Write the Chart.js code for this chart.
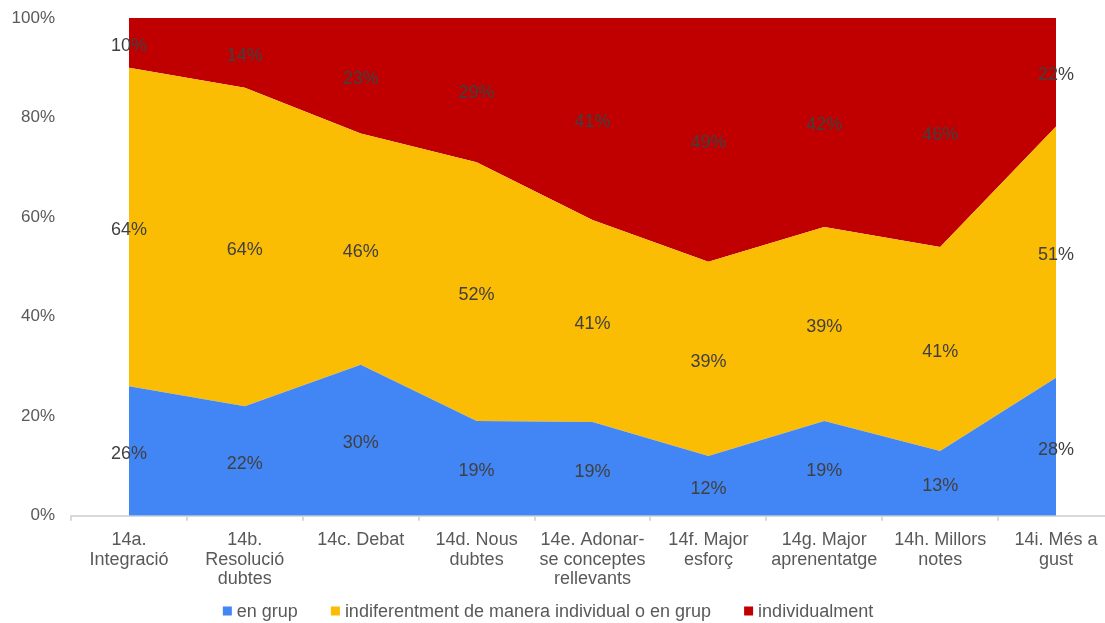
<!DOCTYPE html>
<html>
<head>
  <title>Preferència de treball</title>
  <script src="https://cdn.jsdelivr.net/npm/chart.js"></script>
  <style>
    html, body { margin: 0; padding: 0; background: #fff; overflow: hidden; }
    #wrap { width: 1114px; height: 623px; }
  </style>
</head>
<body>
  <div id="wrap"><canvas id="areaChart"></canvas></div>

  <script>
    // ====================
    // Data
    // ====================
    const categories = [
      ['14a.', 'Integració'],
      ['14b.', 'Resolució', 'dubtes'],
      '14c. Debat',
      ['14d. Nous', 'dubtes'],
      ['14e. Adonar-', 'se conceptes', 'rellevants'],
      ['14f. Major', 'esforç'],
      ['14g. Major', 'aprenentatge'],
      ['14h. Millors', 'notes'],
      ['14i. Més a', 'gust']
    ];
    const enGrup = [26, 22, 30, 19, 19, 12, 19, 13, 28];
    const indiferent = [64, 64, 46, 52, 41, 39, 39, 41, 51];
    const individual = [10, 14, 23, 29, 41, 49, 42, 46, 22];
    const yTicks = [0, 20, 40, 60, 80, 100];

    // 100% stacked: each column scaled to its own total
    const totals = enGrup.map((v, i) => v + indiferent[i] + individual[i]);
    const share = arr => arr.map((v, i) => v / totals[i] * 100);

    const FONT = "'Liberation Sans', Arial, sans-serif";

    // value labels in the middle of each band
    const bandLabels = {
      id: 'bandLabels',
      afterDatasetsDraw(chart) {
        const ctx = chart.ctx;
        ctx.save();
        ctx.font = '18px ' + FONT;
        ctx.fillStyle = '#404040';
        ctx.textAlign = 'center';
        ctx.textBaseline = 'middle';
        chart.data.datasets.forEach((ds, di) => {
          const meta = chart.getDatasetMeta(di);
          meta.data.forEach((pt, i) => {
            let bottom = chart.scales.y.getPixelForValue(0);
            if (di > 0) bottom = chart.getDatasetMeta(di - 1).data[i].y;
            ctx.fillText(ds.raw[i] + '%', pt.x, (pt.y + bottom) / 2 + 3);
          });
        });
        ctx.restore();
      }
    };

    // legend row at the bottom (built-in one can't space items like the original)
    const bottomLegend = {
      id: 'bottomLegend',
      afterDraw(chart) {
        const ctx = chart.ctx;
        const box = 9, gapText = 5, gapItem = 33;
        ctx.save();
        ctx.font = '18px ' + FONT;
        ctx.textBaseline = 'middle';
        ctx.textAlign = 'left';
        const items = chart.data.datasets.map(ds => ({ text: ds.label, color: ds.backgroundColor, w: ctx.measureText(ds.label).width }));
        const total = items.reduce((s, it) => s + box + gapText + it.w, 0) + gapItem * (items.length - 1);
        let x = 548 - total / 2;
        const y = chart.height - 12;
        items.forEach(it => {
          ctx.fillStyle = it.color;
          ctx.fillRect(x, y - box / 2, box, box);
          x += box + gapText;
          ctx.fillStyle = '#595959';
          ctx.fillText(it.text, x, y + 1);
          x += it.w + gapItem;
        });
        ctx.restore();
      }
    };

    new Chart(document.getElementById('areaChart'), {
      type: 'line',
      data: {
        labels: categories,
        datasets: [
          { label: 'en grup', data: share(enGrup), raw: enGrup,
            backgroundColor: '#4285f4', borderColor: '#4285f4', fill: 'origin' },
          { label: 'indiferentment de manera individual o en grup', data: share(indiferent), raw: indiferent,
            backgroundColor: '#fbbc04', borderColor: '#fbbc04', fill: '-1' },
          { label: 'individualment', data: share(individual), raw: individual,
            backgroundColor: '#c00000', borderColor: '#c00000', fill: '-1' }
        ]
      },
      options: {
        responsive: true,
        maintainAspectRatio: false,
        animation: false,
        elements: {
          line: { borderWidth: 0, tension: 0 },
          point: { radius: 0, hoverRadius: 0 }
        },
        layout: { padding: { top: 18, right: 0, left: 10, bottom: 24 } },
        scales: {
          x: {
            offset: true,
            afterFit: s => { s.paddingLeft = 0; s.paddingRight = 0; },
            grid: { offset: true, drawOnChartArea: false, tickLength: 5, color: '#d9d9d9', lineWidth: 2 },
            border: { color: '#d9d9d9', width: 2 },
            ticks: { color: '#595959', font: { family: FONT, size: 18, lineHeight: 1.08 }, maxRotation: 0, padding: 10 }
          },
          y: {
            stacked: true,
            min: 0,
            max: 100,
            afterBuildTicks: axis => { axis.ticks = yTicks.map(v => ({ value: v })); },
            afterFit: s => { s.width = 61; s.paddingTop = 0; s.paddingBottom = 0; },
            grid: { display: false, drawTicks: false },
            border: { display: false },
            ticks: {
              color: '#595959',
              font: { family: FONT, size: 17 },
              padding: 16,
              callback: v => v + '%'
            }
          }
        },
        plugins: {
          legend: { display: false },
          tooltip: { enabled: false }
        }
      },
      plugins: [bandLabels, bottomLegend]
    });
  </script>
</body>
</html>
